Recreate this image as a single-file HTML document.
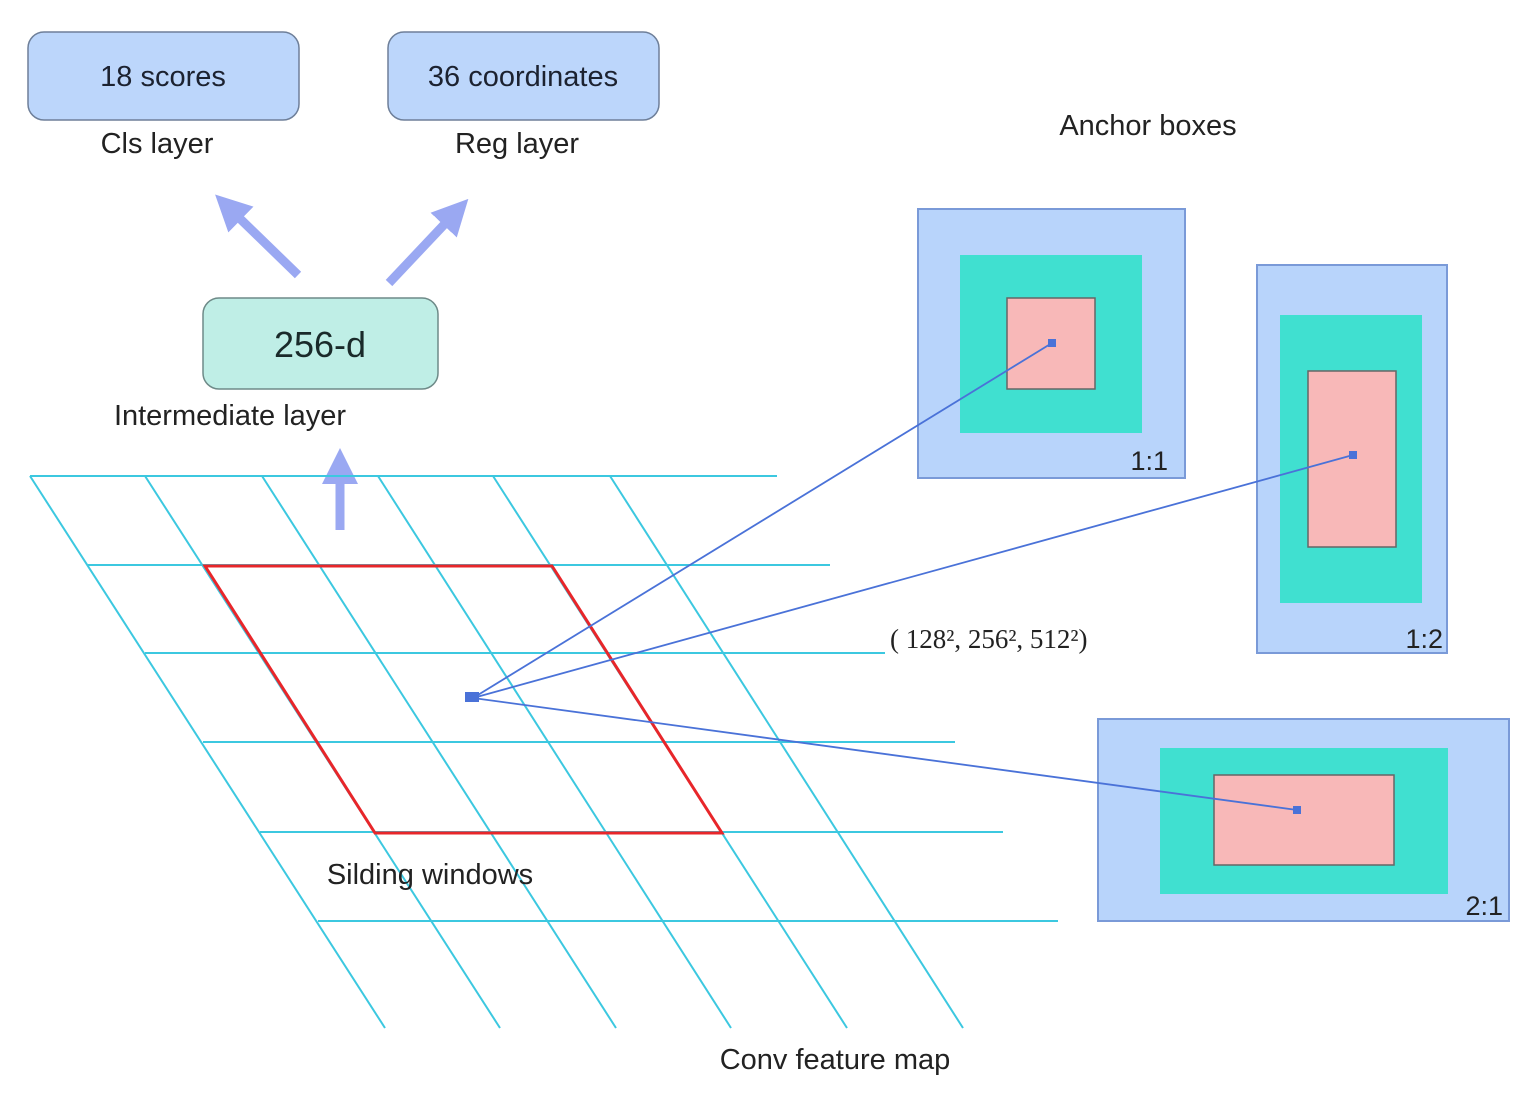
<!DOCTYPE html>
<html><head><meta charset="utf-8"><style>
body{margin:0;background:#fff;}
svg{display:block;font-family:"Liberation Sans",sans-serif;}
</style></head><body>
<svg width="1530" height="1099" viewBox="0 0 1530 1099" xmlns="http://www.w3.org/2000/svg">
<defs>
<marker id="ah" markerWidth="4" markerHeight="4" refX="2" refY="2" orient="auto" markerUnits="strokeWidth">
<path d="M0,0 L4,2 L0,4 z" fill="#9aa8f2"/></marker>
</defs>
<!-- top boxes -->
<rect x="28" y="32" width="271" height="88" rx="16" fill="#bcd6fb" stroke="#6e7f99" stroke-width="1.5"/>
<text x="163" y="86" font-size="29" text-anchor="middle" fill="#1c2230">18 scores</text>
<rect x="388" y="32" width="271" height="88" rx="16" fill="#bcd6fb" stroke="#6e7f99" stroke-width="1.5"/>
<text x="523" y="86" font-size="29" text-anchor="middle" fill="#1c2230">36 coordinates</text>
<text x="157" y="153" font-size="29" text-anchor="middle" fill="#222">Cls layer</text>
<text x="517" y="153" font-size="29" text-anchor="middle" fill="#222">Reg layer</text>
<!-- arrows -->
<line x1="298" y1="275" x2="228" y2="207" stroke="#9aa8f2" stroke-width="9" marker-end="url(#ah)"/>
<line x1="389" y1="283" x2="456" y2="212" stroke="#9aa8f2" stroke-width="9" marker-end="url(#ah)"/>
<line x1="340" y1="530" x2="340" y2="466" stroke="#9aa8f2" stroke-width="9" marker-end="url(#ah)"/>
<!-- 256-d -->
<rect x="203" y="298" width="235" height="91" rx="16" fill="#bfeee6" stroke="#6e8a88" stroke-width="1.5"/>
<text x="320" y="357" font-size="36" text-anchor="middle" fill="#1a2a2a">256-d</text>
<text x="230" y="425" font-size="29" text-anchor="middle" fill="#222">Intermediate layer</text>
<!-- grid -->
<g stroke="#3cc8e0" stroke-width="2">
<line x1="30" y1="476" x2="777" y2="476"/>
<line x1="88" y1="565" x2="830" y2="565"/>
<line x1="145" y1="653" x2="885" y2="653"/>
<line x1="203" y1="742" x2="955" y2="742"/>
<line x1="260" y1="832" x2="1003" y2="832"/>
<line x1="318" y1="921" x2="1058" y2="921"/>
<line x1="30" y1="476" x2="385" y2="1028"/>
<line x1="145" y1="476" x2="500" y2="1028"/>
<line x1="262" y1="476" x2="616" y2="1028"/>
<line x1="378" y1="476" x2="731" y2="1028"/>
<line x1="493" y1="476" x2="847" y2="1028"/>
<line x1="610" y1="476" x2="963" y2="1028"/>
</g>
<polygon points="205,566 552,566 722,833 375,833" fill="none" stroke="#e8262a" stroke-width="3"/>
<text x="430" y="884" font-size="29" text-anchor="middle" fill="#222">Silding windows</text>
<text x="835" y="1069" font-size="29" text-anchor="middle" fill="#222">Conv feature map</text>
<text x="1148" y="135" font-size="29" text-anchor="middle" fill="#222">Anchor boxes</text>
<text x="890" y="648" font-size="27" fill="#222" font-family="Liberation Serif, serif">( 128², 256², 512²)</text>
<!-- anchor boxes -->
<rect x="918" y="209" width="267" height="269" fill="#b8d4fb" stroke="#7a9ad8" stroke-width="2"/>
<rect x="960" y="255" width="182" height="178" fill="#40e0d0"/>
<rect x="1007" y="298" width="88" height="91" fill="#f8b8b8" stroke="#666" stroke-width="1.5"/>
<text x="1168" y="470" font-size="27" text-anchor="end" fill="#222">1:1</text>
<rect x="1257" y="265" width="190" height="388" fill="#b8d4fb" stroke="#7a9ad8" stroke-width="2"/>
<rect x="1280" y="315" width="142" height="288" fill="#40e0d0"/>
<rect x="1308" y="371" width="88" height="176" fill="#f8b8b8" stroke="#666" stroke-width="1.5"/>
<text x="1443" y="648" font-size="27" text-anchor="end" fill="#222">1:2</text>
<rect x="1098" y="719" width="411" height="202" fill="#b8d4fb" stroke="#7a9ad8" stroke-width="2"/>
<rect x="1160" y="748" width="288" height="146" fill="#40e0d0"/>
<rect x="1214" y="775" width="180" height="90" fill="#f8b8b8" stroke="#666" stroke-width="1.5"/>
<text x="1503" y="915" font-size="27" text-anchor="end" fill="#222">2:1</text>
<!-- connectors -->
<g stroke="#4a72d8" stroke-width="1.8">
<line x1="473" y1="698" x2="1052" y2="343"/>
<line x1="473" y1="698" x2="1353" y2="455"/>
<line x1="473" y1="698" x2="1297" y2="810"/>
</g>
<rect x="465" y="692" width="14" height="10" fill="#4a72d8"/>
<rect x="1048" y="339" width="8" height="8" fill="#4a72d8"/>
<rect x="1349" y="451" width="8" height="8" fill="#4a72d8"/>
<rect x="1293" y="806" width="8" height="8" fill="#4a72d8"/>
</svg>
</body></html>
